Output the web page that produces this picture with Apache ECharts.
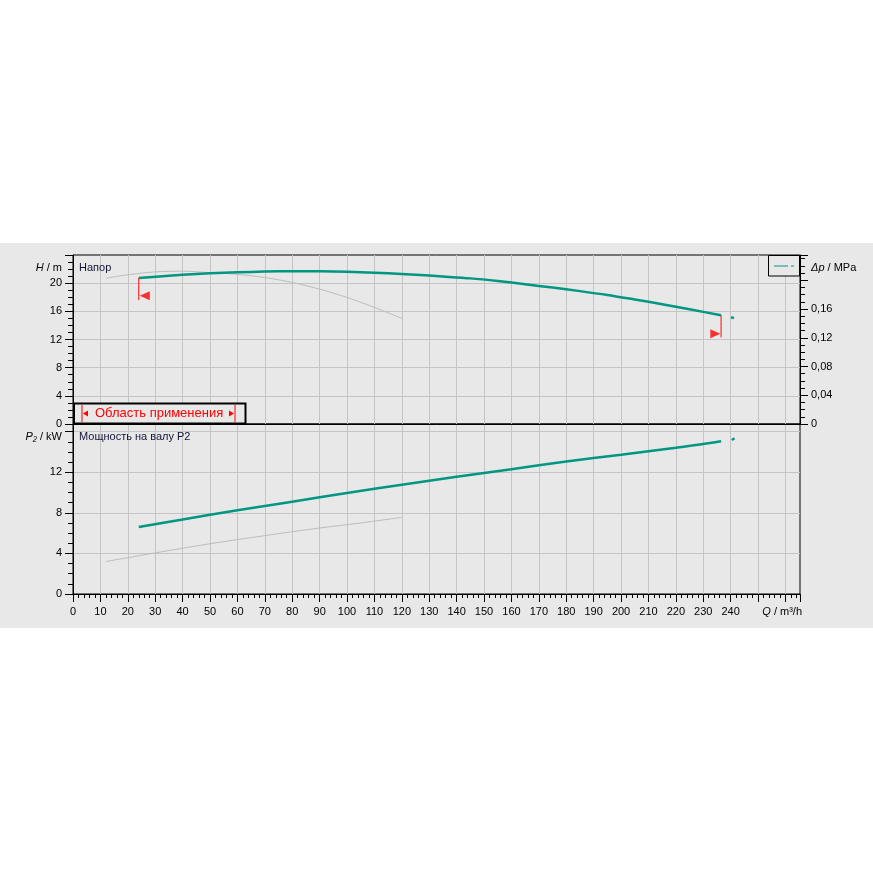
<!DOCTYPE html>
<html>
<head>
<meta charset="UTF-8">
<title>Напор / Мощность на валу</title>
<script src="https://cdn.jsdelivr.net/npm/echarts@6.0.0/dist/echarts.min.js"></script>
<style>
    html, body { margin: 0; padding: 0; background: #fff; }
    #band { position: absolute; left: 0; top: 243px; width: 873px; height: 385px; background: #e8e8e8; }
    #chart { position: absolute; left: 0; top: 0; width: 873px; height: 873px; }
</style>
</head>
<body>
<div id="band"></div>
<div id="chart"></div>
<script>
    // подача Q, м3/ч и напор H, м (рабочая кривая)
    var qHead = [24, 35, 45, 55, 65, 75, 85, 95, 105, 115, 125, 135, 145, 155, 165, 175, 185, 195, 205, 215, 225, 236.5];
    var head  = [20.75, 21.05, 21.3, 21.48, 21.6, 21.68, 21.7, 21.66, 21.55, 21.4, 21.2, 20.95, 20.68, 20.3, 19.85, 19.37, 18.87, 18.32, 17.68, 17.02, 16.3, 15.43];
    var qHeadTail = [240.1, 241.2];
    var headTail  = [15.14, 15.05];

    // вторая (серая) кривая напора
    var qHeadGray = [12, 20, 30, 40, 50, 60, 70, 80, 90, 100, 110, 120];
    var headGray  = [20.7, 21.2, 21.6, 21.7, 21.5, 21.25, 20.8, 20.1, 19.15, 17.97, 16.55, 15.0];

    // мощность на валу P2, кВт
    var qPower = [24, 40, 60, 80, 100, 120, 140, 160, 180, 200, 220, 236.5];
    var power  = [6.6, 7.35, 8.25, 9.1, 9.95, 10.77, 11.55, 12.3, 13.05, 13.72, 14.4, 15.05];
    var qPowerTail = [240.4, 241.4];
    var powerTail  = [15.17, 15.34];

    var qPowerGray = [12, 30, 50, 70, 90, 105, 120];
    var powerGray  = [3.2, 4.05, 4.95, 5.75, 6.5, 7.0, 7.55];

    // границы области применения: [Q, H верх, H низ], маркер [Q, H]
    var rangeLeft  = [24, 20.75, 17.6];
    var rangeRight = [236.5, 15.43, 12.3];
    var markLeft   = [26.2, 18.2];
    var markRight  = [234.4, 12.8];

    // подписи осей
    var qTicks  = [0, 10, 20, 30, 40, 50, 60, 70, 80, 90, 100, 110, 120, 130, 140, 150, 160, 170, 180, 190, 200, 210, 220, 230, 240];
    var hTicks  = [0, 4, 8, 12, 16, 20];
    var dpTicks = [0, 0.04, 0.08, 0.12, 0.16];
    var pTicks  = [0, 4, 8, 12];
    var qMax = 265.3, hMax = 24, dpMax = 0.2352, pMax = 16.75;

    var FONT = 'Liberation Sans, Arial, sans-serif';
    var GREEN = '#009682', GRAY = '#bdbdbd', GRIDC = '#c4c4c4', BG = '#e8e8e8';

    function pairs(xs, ys) {
        return xs.map(function (x, i) { return [x, ys[i]]; });
    }
    function hasTick(list, v) {
        return list.some(function (t) { return Math.abs(t - v) < 1e-9; });
    }

    function xAxisCfg(idx, withLabels) {
        return {
            type: 'value', gridIndex: idx, min: 0, max: qMax, interval: 10,
            axisLine: { show: true, onZero: false, lineStyle: { color: '#000' } },
            axisTick: { show: withLabels, length: 8, lineStyle: { color: '#000' } },
            minorTick: { show: withLabels, splitNumber: 5, length: 4, lineStyle: { color: '#000' } },
            axisLabel: {
                show: withLabels, margin: 12, color: '#000', fontFamily: FONT, fontSize: 11,
                formatter: function (v) { return hasTick(qTicks, v) ? String(v) : ''; }
            },
            splitLine: { show: true, showMinLine: false, showMaxLine: false, lineStyle: { color: GRIDC } }
        };
    }

    function yAxisCfg(idx, pos, max, interval, ticks, fmt, grid) {
        return {
            type: 'value', gridIndex: idx, position: pos, min: 0, max: max, interval: interval,
            axisLine: { show: true, onZero: false, lineStyle: { color: '#000' } },
            axisTick: { show: true, length: 8, lineStyle: { color: '#000' } },
            minorTick: { show: true, splitNumber: 4, length: 5, lineStyle: { color: '#000' } },
            axisLabel: {
                margin: 11, color: '#000', fontFamily: FONT, fontSize: 11,
                formatter: function (v) { return hasTick(ticks, v) ? fmt(v) : ''; }
            },
            splitLine: { show: grid, showMinLine: false, showMaxLine: false, lineStyle: { color: GRIDC } }
        };
    }

    function curve(xi, yi, data, color, width) {
        return {
            type: 'line', xAxisIndex: xi, yAxisIndex: yi, data: data,
            showSymbol: false, smooth: 0.3, silent: true,
            lineStyle: { color: color, width: width }
        };
    }

    var chart = echarts.init(document.getElementById('chart'));

    var option = {
        animation: false,
        grid: [
            { left: 73, top: 255, width: 727, height: 169, show: true, borderColor: '#000', borderWidth: 1, backgroundColor: BG, outerBoundsMode: 'none' },
            { left: 73, top: 424, width: 727, height: 170, show: true, borderColor: '#000', borderWidth: 1, backgroundColor: BG, outerBoundsMode: 'none' }
        ],
        xAxis: [xAxisCfg(0, false), xAxisCfg(1, true)],
        yAxis: [
            yAxisCfg(0, 'left', hMax, 4, hTicks, String, true),
            yAxisCfg(0, 'right', dpMax, 0.04, dpTicks, function (v) {
                return v === 0 ? '0' : v.toFixed(2).replace('.', ',');
            }, false),
            yAxisCfg(1, 'left', pMax, 4, pTicks, String, true)
        ],
        series: [
            curve(0, 0, pairs(qHeadGray, headGray), GRAY, 1),
            curve(0, 0, pairs(qHead, head), GREEN, 2.5),
            curve(0, 0, pairs(qHeadTail, headTail), GREEN, 2.5),
            curve(0, 0, [[rangeLeft[0], rangeLeft[1]], [rangeLeft[0], rangeLeft[2]]], '#ff0000', 1),
            curve(0, 0, [[rangeRight[0], rangeRight[1]], [rangeRight[0], rangeRight[2]]], '#ff0000', 1),
            {
                type: 'scatter', xAxisIndex: 0, yAxisIndex: 0, symbol: 'triangle', symbolSize: [9, 10],
                itemStyle: { color: '#ff0000' }, silent: true,
                data: [
                    { value: markLeft, symbolRotate: 90 },
                    { value: markRight, symbolRotate: -90 }
                ]
            },
            curve(1, 2, pairs(qPowerGray, powerGray), GRAY, 1),
            curve(1, 2, pairs(qPower, power), GREEN, 2.5),
            curve(1, 2, pairs(qPowerTail, powerTail), GREEN, 2.5)
        ],
        graphic: [
            { type: 'text', z: 100, style: { x: 79, y: 268, text: 'Напор', fill: '#14143a', fontFamily: FONT, fontSize: 11, verticalAlign: 'middle' } },
            { type: 'text', z: 100, style: { x: 79, y: 437, text: 'Мощность на валу P2', fill: '#14143a', fontFamily: FONT, fontSize: 11, verticalAlign: 'middle' } },
            { type: 'text', z: 100, style: { x: 62, y: 268, text: '{i|H} / m', fill: '#000', fontFamily: FONT, fontSize: 11, align: 'right', verticalAlign: 'middle',
                rich: { i: { fontStyle: 'italic', fontFamily: FONT, fontSize: 11 } } } },
            { type: 'text', z: 100, style: { x: 62, y: 437, text: '{i|P₂} / kW', fill: '#000', fontFamily: FONT, fontSize: 11, align: 'right', verticalAlign: 'middle',
                rich: { i: { fontStyle: 'italic', fontFamily: FONT, fontSize: 11 } } } },
            { type: 'text', z: 100, style: { x: 811, y: 268, text: '{i|Δp} / MPa', fill: '#000', fontFamily: FONT, fontSize: 11, align: 'left', verticalAlign: 'middle',
                rich: { i: { fontStyle: 'italic', fontFamily: FONT, fontSize: 11 } } } },
            { type: 'text', z: 100, style: { x: 802, y: 612, text: '{i|Q} / m³/h', fill: '#000', fontFamily: FONT, fontSize: 11, align: 'right', verticalAlign: 'middle',
                rich: { i: { fontStyle: 'italic', fontFamily: FONT, fontSize: 11 } } } },
            // легенда
            { type: 'rect', z: 100, shape: { x: 768.5, y: 255.5, width: 31, height: 20.5 }, style: { fill: BG, stroke: '#000', lineWidth: 1 } },
            { type: 'line', z: 101, shape: { x1: 774, y1: 266, x2: 794, y2: 266 }, style: { stroke: GREEN, lineWidth: 1, lineDash: [14, 3, 3, 20] } },
            // область применения
            { type: 'rect', z: 100, shape: { x: 74, y: 403.5, width: 171.5, height: 20 }, style: { fill: BG, stroke: '#000', lineWidth: 2 } },
            { type: 'line', z: 101, shape: { x1: 82, y1: 405, x2: 82, y2: 422 }, style: { stroke: '#ff0000', lineWidth: 1 } },
            { type: 'polygon', z: 101, shape: { points: [[83, 413.5], [88, 410.5], [88, 416.5]] }, style: { fill: '#ff0000' } },
            { type: 'text', z: 101, style: { x: 95, y: 413.5, text: 'Область применения', fill: '#ff0000', fontFamily: FONT, fontSize: 13, verticalAlign: 'middle' } },
            { type: 'polygon', z: 101, shape: { points: [[234, 413.5], [229, 410.5], [229, 416.5]] }, style: { fill: '#ff0000' } },
            { type: 'line', z: 101, shape: { x1: 235, y1: 405, x2: 235, y2: 422 }, style: { stroke: '#ff0000', lineWidth: 1 } }
        ]
    };

    chart.setOption(option);
</script>
</body>
</html>
